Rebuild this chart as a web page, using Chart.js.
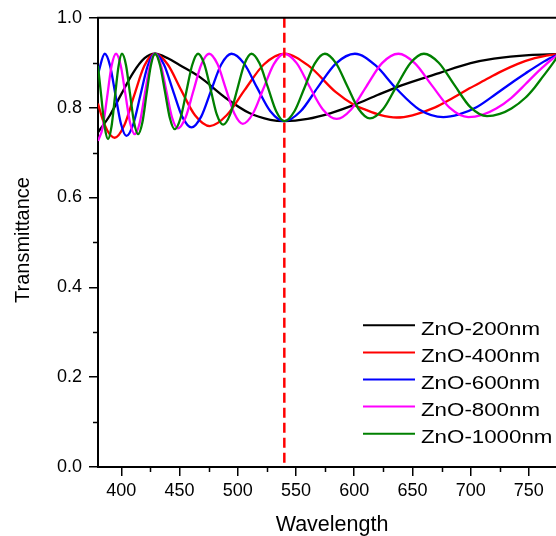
<!DOCTYPE html>
<html><head><meta charset="utf-8">
<script src="https://cdn.jsdelivr.net/npm/chart.js@4.4.1/dist/chart.umd.min.js"></script>
<style>html,body{margin:0;padding:0;background:#fff;overflow:hidden}</style>
</head><body>
<canvas id="c" width="556" height="536" style="display:block"></canvas>
<script>
// ---- data ----
const seriesNames = ['ZnO-200nm','ZnO-400nm','ZnO-600nm','ZnO-800nm','ZnO-1000nm'];
const seriesColors = ['#000000','#ff0000','#0000ff','#ff00ff','#008000'];

const wl200 = [380,390,400,410,420,429,440,450,467,490,510,528,540,560,580,600,620,640,673,700,720,750,775];
const t200  = [0.745,0.782,0.830,0.877,0.910,0.920,0.910,0.895,0.869,0.821,0.788,0.773,0.770,0.775,0.788,0.806,0.828,0.849,0.877,0.899,0.909,0.917,0.919];

const wl400 = [380,384,388,391,394.4,402.5,411,419.8,429,439.9,451.3,463.3,476,490.5,506,522.4,540,561,584,600,610,622,636.4,650,669,685,699,712,725,740,755,765,775];
const t400  = [0.809,0.774,0.749,0.738,0.733,0.760,0.8265,0.893,0.920,0.896,0.8395,0.783,0.759,0.783,0.8395,0.896,0.920,0.893,0.835,0.806,0.795,0.784,0.778,0.783,0.800,0.822,0.843,0.861,0.879,0.897,0.910,0.916,0.919];

const wl600 = [380,385.8,390.4,395,399.7,404.4,410.4,416.5,422.7,429,436.6,444.4,452.3,460.3,468.6,477.1,485.8,494.6,505.5,516.5,528,540,554,568.7,584.2,600.6,617.9,636.3,655.8,676.5,690,705,722,735,747,760,768,775];
const t600  = [0.875,0.920,0.893,0.8285,0.764,0.737,0.764,0.8285,0.893,0.920,0.896,0.838,0.780,0.756,0.780,0.838,0.896,0.920,0.898,0.845,0.792,0.770,0.792,0.845,0.898,0.920,0.895,0.842,0.796,0.779,0.785,0.801,0.831,0.855,0.876,0.898,0.910,0.918];

const wl800 = [380,383.9,387.8,391.6,395.5,399.5,403.5,407.5,411.5,415.9,420.2,424.6,429,433.9,438.7,443.6,448.5,455.2,461.9,468.7,475.4,482.6,489.8,497.1,504.3,513.1,522,531,540,550.6,561.6,573.1,585,597.4,610.4,623.9,638,652,666.7,681.9,698,710,722,735,747,755,762,769,775];
const t800  = [0.726,0.754,0.823,0.892,0.920,0.894,0.8305,0.767,0.741,0.767,0.8305,0.894,0.920,0.896,0.837,0.778,0.754,0.778,0.837,0.896,0.920,0.897,0.842,0.787,0.764,0.787,0.842,0.897,0.920,0.899,0.847,0.796,0.775,0.796,0.847,0.899,0.920,0.899,0.8495,0.800,0.779,0.784,0.798,0.822,0.852,0.873,0.890,0.906,0.917];

const wl1000 = [380,382.8,385.7,388.6,391.6,394.6,397.6,400.6,404.1,407.5,411,414.4,418.1,421.7,425.4,429,433.2,437.5,441.7,445.9,450.9,455.9,460.9,465.9,471.3,476.7,482,487.4,493.5,499.6,505.7,511.8,518.8,525.9,533,540,548.7,557.4,566.1,574.8,584.3,594,603.8,613.5,624.9,636.4,648.2,659.9,672.6,686,699.8,714,725,735,747,755,762,769,775];
const t1000  = [0.893,0.825,0.758,0.730,0.758,0.825,0.892,0.920,0.894,0.8305,0.767,0.741,0.767,0.8305,0.894,0.920,0.895,0.836,0.777,0.752,0.777,0.836,0.895,0.920,0.897,0.841,0.785,0.762,0.785,0.841,0.897,0.920,0.898,0.845,0.792,0.770,0.792,0.845,0.898,0.920,0.899,0.848,0.797,0.776,0.797,0.848,0.899,0.920,0.900,0.8505,0.801,0.781,0.786,0.798,0.822,0.845,0.869,0.893,0.915];

const xTicks = [400,450,500,550,600,650,700,750];
const xMinorTicks = [425,475,525,575,625,675,725];
const yTicks = [0.0,0.2,0.4,0.6,0.8,1.0];
const yMinorTicks = [0.1,0.3,0.5,0.7,0.9];
const markerWavelength = [540];
const xTitle = 'Wavelength';
const yTitle = 'Transmittance';

// ---- build ----
function pts(xs, ys){ const n=Math.min(xs.length, ys.length); const a=[]; for(let i=0;i<n;i++) a.push({x:xs[i], y:ys[i]}); return a; }
const allX = [wl200, wl400, wl600, wl800, wl1000];
const allY = [t200, t400, t600, t800, t1000];

const datasets = allX.map((xs,i)=>({
  label: seriesNames[i],
  data: pts(xs, allY[i]),
  borderColor: seriesColors[i],
  backgroundColor: seriesColors[i],
  borderWidth: 2.3,
  pointRadius: 0,
  cubicInterpolationMode: 'monotone',
  fill: false,
  order: 5 - i
}));
datasets.push({
  label: 'marker',
  data: [{x: markerWavelength[0], y: 1}, {x: markerWavelength[0], y: 0}],
  borderColor: '#ff0000',
  borderWidth: 2.5,
  borderDash: [10, 5],
  pointRadius: 0,
  tension: 0,
  fill: false,
  order: 0
});

const FONT = '"Liberation Sans", Arial, sans-serif';

const decor = {
  id: 'decor',
  afterDraw(chart){
    const ctx = chart.ctx, a = chart.chartArea;
    const xs = chart.scales.x, ys = chart.scales.y;
    ctx.save();
    // top frame
    ctx.strokeStyle = '#000'; ctx.lineWidth = 2;
    ctx.beginPath(); ctx.moveTo(a.left - 1, a.top); ctx.lineTo(a.right, a.top); ctx.stroke();
    // minor ticks
    ctx.lineWidth = 1.5;
    ctx.beginPath();
    xMinorTicks.forEach(v => { const p = Math.round(xs.getPixelForValue(v)) + 0.5; ctx.moveTo(p, a.bottom); ctx.lineTo(p, a.bottom + 5); });
    yMinorTicks.forEach(v => { const p = Math.round(ys.getPixelForValue(v)) + 0.5; ctx.moveTo(a.left, p); ctx.lineTo(a.left - 5, p); });
    ctx.stroke();
    // axis titles
    ctx.fillStyle = '#000';
    ctx.font = '21.5px ' + FONT;
    ctx.textAlign = 'center'; ctx.textBaseline = 'alphabetic';
    ctx.fillText(xTitle, 332, 531);
    ctx.save();
    ctx.translate(29, 240); ctx.rotate(-Math.PI/2);
    ctx.font = '20px ' + FONT;
    ctx.fillText(yTitle, 0, 0);
    ctx.restore();
    // legend
    ctx.font = '19px ' + FONT;
    ctx.textAlign = 'left';
    const sx = 119 / ctx.measureText(seriesNames[0]).width;
    seriesNames.forEach((name, i) => {
      const y = 325.3 + i * 27.1;
      ctx.strokeStyle = seriesColors[i]; ctx.lineWidth = 2;
      ctx.beginPath(); ctx.moveTo(363, y); ctx.lineTo(415, y); ctx.stroke();
      ctx.save();
      ctx.translate(421, y + 9.4); ctx.scale(sx, 1);
      ctx.fillStyle = '#000';
      ctx.fillText(name, 0, 0);
      ctx.restore();
    });
    ctx.restore();
  }
};

new Chart(document.getElementById('c'), {
  type: 'line',
  data: { datasets },
  options: {
    responsive: false, animation: false, devicePixelRatio: 1,
    layout: { padding: { top: 17, left: 0, right: 0, bottom: 0 } },
    plugins: { legend: { display: false }, tooltip: { enabled: false } },
    scales: {
      x: {
        type: 'linear', min: 380, max: 773.3,
        afterBuildTicks: s => { s.ticks = xTicks.map(v => ({ value: v })); },
        afterFit: s => { s.height = 69; },
        grid: { display: true, drawOnChartArea: false, drawTicks: true, tickLength: 9, color: '#000', lineWidth: 1.5 },
        border: { display: true, color: '#000', width: 2 },
        ticks: { color: '#000', font: { family: FONT, size: 18 }, padding: 4, maxRotation: 0, autoSkip: false, callback: v => String(v) }
      },
      y: {
        type: 'linear', min: 0, max: 1,
        afterBuildTicks: s => { s.ticks = yTicks.map(v => ({ value: v })); },
        afterFit: s => { s.width = 98; },
        grid: { display: true, drawOnChartArea: false, drawTicks: true, tickLength: 9, color: '#000', lineWidth: 1.5 },
        border: { display: true, color: '#000', width: 2 },
        ticks: { color: '#000', font: { family: FONT, size: 18 }, padding: 7, callback: v => Number(v).toFixed(1) }
      }
    }
  },
  plugins: [decor]
});
</script>
</body></html>
